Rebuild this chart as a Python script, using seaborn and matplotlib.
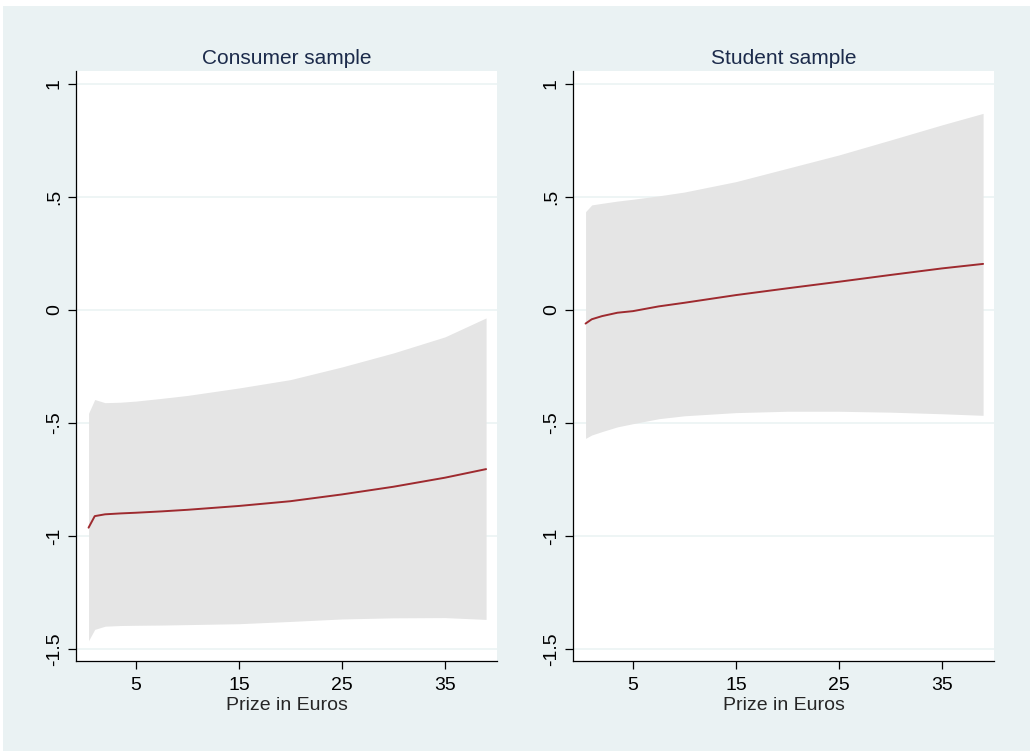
import numpy as np
import pandas as pd
import matplotlib
matplotlib.use("Agg")
import matplotlib.pyplot as plt
import seaborn as sns
from matplotlib.patches import Rectangle

# prize grid (euros)
prize = [0.4, 1.0, 2.0, 3.5, 5, 7.5, 10, 15, 20, 25, 30, 35, 39]

# consumer sample: estimate and 95% band
cons_est = [-0.963, -0.912, -0.904, -0.900, -0.897, -0.891, -0.884, -0.867, -0.846, -0.816, -0.782, -0.742, -0.704]
cons_hi = [-0.457, -0.396, -0.410, -0.408, -0.403, -0.391, -0.378, -0.345, -0.308, -0.252, -0.190, -0.119, -0.035]
cons_lo = [-1.463, -1.413, -1.399, -1.396, -1.395, -1.394, -1.392, -1.388, -1.378, -1.367, -1.362, -1.361, -1.369]

# student sample
stud_est = [-0.060, -0.041, -0.027, -0.012, -0.005, 0.016, 0.032, 0.066, 0.096, 0.125, 0.155, 0.184, 0.204]
stud_hi = [0.435, 0.465, 0.472, 0.482, 0.490, 0.505, 0.522, 0.568, 0.627, 0.686, 0.752, 0.819, 0.870]
stud_lo = [-0.568, -0.553, -0.538, -0.517, -0.503, -0.481, -0.468, -0.454, -0.448, -0.448, -0.452, -0.459, -0.466]

titles = ["Consumer sample", "Student sample"]
yticks = [-1.5, -1, -0.5, 0, 0.5, 1]
ytick_labels = ["-1.5", "-1", "-.5", "0", ".5", "1"]
xticks = [5, 15, 25, 35]

bg = "#EAF2F3"
line_col = "#9E2A2F"
band_col = "#E5E5E5"

sns.set_style("white")
plt.rcParams["font.family"] = ["Liberation Sans", "DejaVu Sans"]

fig = plt.figure(figsize=(10.30, 7.51), dpi=100, facecolor="white")
fig.patches.append(Rectangle((3 / 1030, 0), 1, 745 / 751, transform=fig.transFigure,
                             facecolor=bg, edgecolor="none", zorder=-10))

panels = [
    (cons_est, cons_lo, cons_hi),
    (stud_est, stud_lo, stud_hi),
]
lefts = [76 / 1030, 573 / 1030]

for i, (est, lo, hi) in enumerate(panels):
    ax = fig.add_axes([lefts[i], 90 / 751, 421 / 1030, 590 / 751])
    ax.set_facecolor("white")
    df = pd.DataFrame({"prize": prize, "est": est, "lo": lo, "hi": hi})

    ax.fill_between(df["prize"], df["lo"], df["hi"], color=band_col, linewidth=0, zorder=2)
    sns.lineplot(data=df, x="prize", y="est", ax=ax, color=line_col, linewidth=1.4, zorder=3)

    ax.set_xlim(-0.82, 40.06)
    ax.set_ylim(-1.553, 1.0575)
    ax.set_xticks(xticks)
    ax.set_yticks(yticks)
    ax.set_yticklabels(ytick_labels, rotation=90, va="center")
    ax.yaxis.grid(True, color=bg, linewidth=1.1, zorder=0)
    ax.set_axisbelow(True)

    for s in ["top", "right"]:
        ax.spines[s].set_visible(False)
    for s in ["left", "bottom"]:
        ax.spines[s].set_color("black")
        ax.spines[s].set_linewidth(0.9)

    ax.tick_params(axis="both", which="both", length=5.5, width=0.9, color="black",
                   labelsize=14, labelcolor="black", left=True, bottom=True)
    ax.tick_params(axis="x", pad=6)
    ax.tick_params(axis="y", pad=4)
    ax.set_xlabel("Prize in Euros", fontsize=14, labelpad=2)
    ax.set_ylabel("")
    ax.set_title(titles[i], fontsize=15, color="#1C2B4B", pad=5)

fig.savefig("out.png", dpi=100, facecolor=fig.get_facecolor())
